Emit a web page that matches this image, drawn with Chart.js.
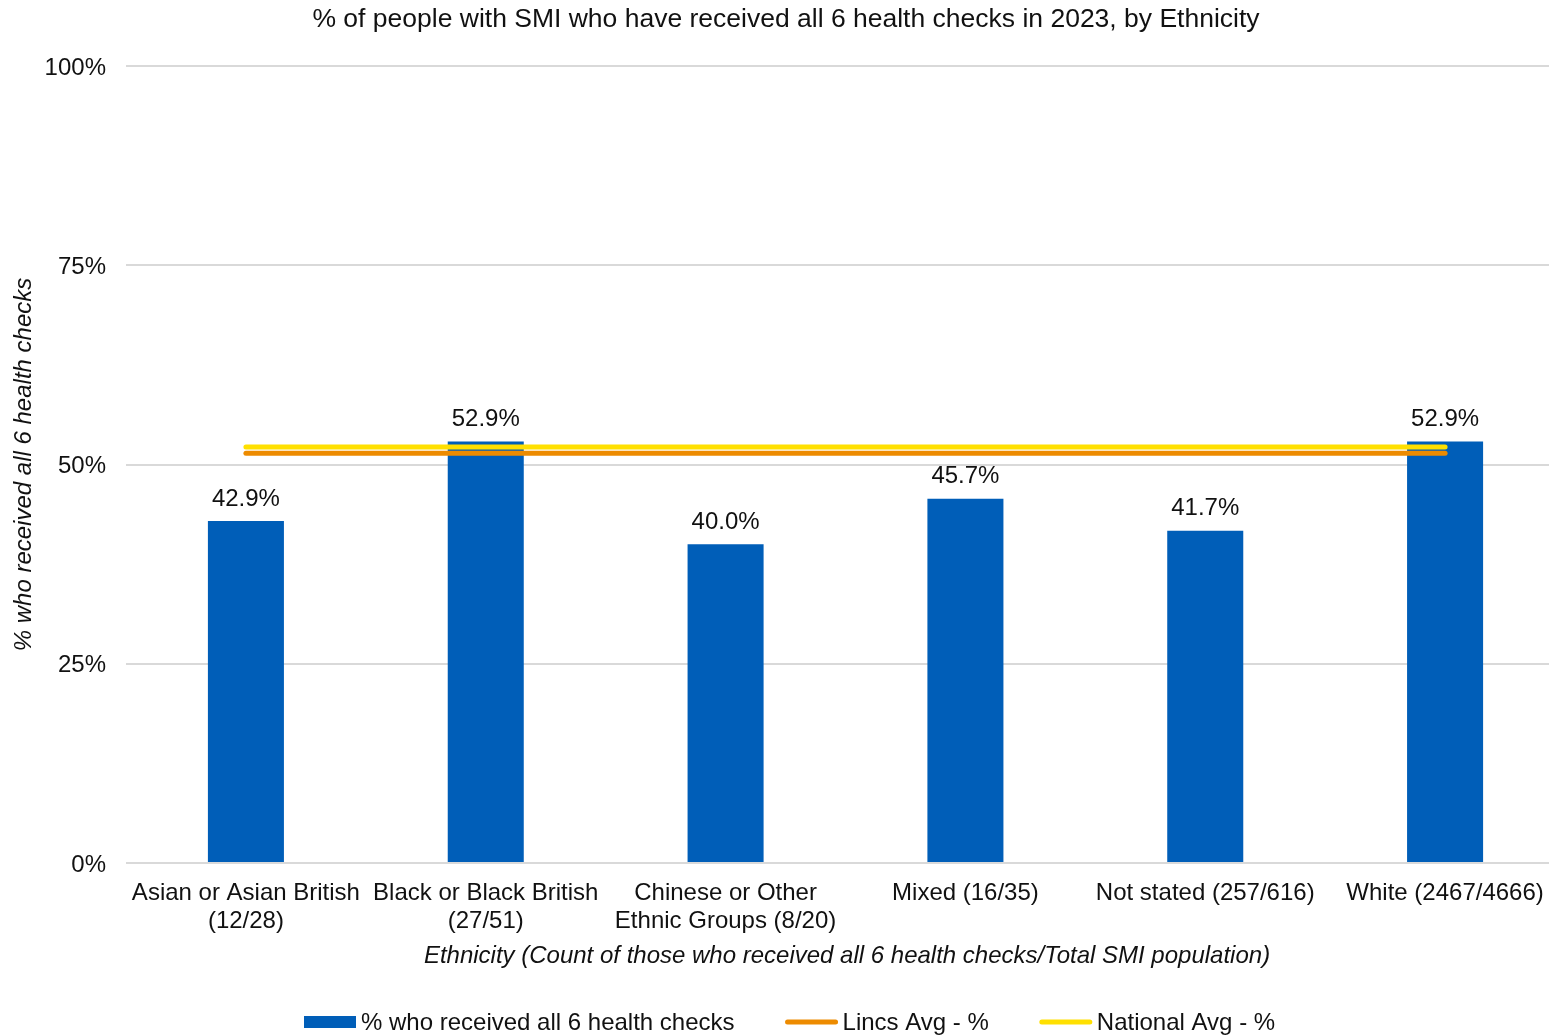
<!DOCTYPE html>
<html>
<head>
<meta charset="utf-8">
<script src="https://cdn.jsdelivr.net/npm/chart.js@4/dist/chart.umd.min.js"></script>
<style>
  html, body { margin: 0; padding: 0; background: #fff; overflow: hidden; }
  canvas { display: block; }
</style>
</head>
<body>
<canvas id="c" width="1565" height="1036"></canvas>
<script>
// Ethnic groups (received all 6 checks / total SMI population)
const categories = [
  ['Asian or Asian British', '(12/28)'],
  ['Black or Black British', '(27/51)'],
  ['Chinese or Other', 'Ethnic Groups (8/20)'],
  'Mixed (16/35)',
  'Not stated (257/616)',
  'White (2467/4666)'
];
const pctAllChecks = [42.9, 52.9, 40.0, 45.7, 41.7, 52.9];
const lincsAvgPct = 51.4;
const nationalAvgPct = 52.2;
const yTicks = [0, 25, 50, 75, 100];

const titleText = '% of people with SMI who have received all 6 health checks in 2023, by Ethnicity';
const xTitleText = 'Ethnicity (Count of those who received all 6 health checks/Total SMI population)';
const yTitleText = '% who received all 6 health checks';

const BLUE = '#005EB8', ORANGE = '#ED8B00', YELLOW = '#FFE000';
const FONT = '"Liberation Sans", Arial, sans-serif';
const TXT = '#111';

const legendItems = [
  { label: '% who received all 6 health checks', color: BLUE, kind: 'box' },
  { label: 'Lincs Avg - %', color: ORANGE, kind: 'line' },
  { label: 'National Avg - %', color: YELLOW, kind: 'line' }
];

// Title, axis titles, value labels and legend
const decor = {
  id: 'decor',
  afterDatasetsDraw(chart) {
    const ctx = chart.ctx;
    const meta = chart.getDatasetMeta(2);
    ctx.save();
    ctx.fillStyle = TXT;
    ctx.font = '24px ' + FONT;
    ctx.textAlign = 'center';
    ctx.textBaseline = 'middle';
    meta.data.forEach((bar, i) => {
      ctx.fillText(pctAllChecks[i].toFixed(1) + '%', bar.x, bar.y - 22);
    });
    ctx.restore();
  },
  afterDraw(chart) {
    const ctx = chart.ctx;
    const area = chart.chartArea;
    ctx.save();
    ctx.fillStyle = TXT;
    ctx.textBaseline = 'middle';
    ctx.textAlign = 'center';
    ctx.font = '26.5px ' + FONT;
    ctx.fillText(titleText, 786, 20);

    ctx.font = 'italic 24px ' + FONT;
    ctx.fillText(xTitleText, 847, 956);

    ctx.save();
    ctx.translate(24, (area.top + area.bottom) / 2);
    ctx.rotate(-Math.PI / 2);
    ctx.fillText(yTitleText, 0, 0);
    ctx.restore();

    // legend row
    ctx.font = '24px ' + FONT;
    ctx.textAlign = 'left';
    const sw = 52, gapText = 5, gapItem = 51;
    const widths = legendItems.map(it => ctx.measureText(it.label).width);
    let x = 304;
    const y = 1022;
    legendItems.forEach((it, i) => {
      if (it.kind === 'box') {
        ctx.fillStyle = it.color;
        ctx.fillRect(x, y - 6, sw, 12);
      } else {
        ctx.strokeStyle = it.color;
        ctx.lineWidth = 5;
        ctx.lineCap = 'round';
        ctx.beginPath();
        ctx.moveTo(x + 2, y);
        ctx.lineTo(x + sw - 2, y);
        ctx.stroke();
      }
      ctx.fillStyle = TXT;
      ctx.fillText(it.label, x + sw + gapText, y + 1);
      x += sw + gapText + widths[i] + gapItem;
    });
    ctx.restore();
  }
};

new Chart(document.getElementById('c'), {
  data: {
    labels: categories,
    datasets: [
      {
        type: 'line',
        label: 'National Avg - %',
        data: categories.map(() => nationalAvgPct),
        borderColor: YELLOW,
        backgroundColor: YELLOW,
        borderWidth: 5,
        borderCapStyle: 'round',
        pointRadius: 0,
        order: 1
      },
      {
        type: 'line',
        label: 'Lincs Avg - %',
        data: categories.map(() => lincsAvgPct),
        borderColor: ORANGE,
        backgroundColor: ORANGE,
        borderWidth: 5,
        borderCapStyle: 'round',
        pointRadius: 0,
        order: 2
      },
      {
        type: 'bar',
        label: '% who received all 6 health checks',
        data: pctAllChecks,
        backgroundColor: BLUE,
        barPercentage: 1,
        categoryPercentage: 0.317,
        order: 3
      }
    ]
  },
  options: {
    responsive: false,
    animation: false,
    layout: { padding: { top: 66, left: 0, right: 0, bottom: 0 } },
    plugins: {
      legend: { display: false },
      title: { display: false },
      tooltip: { enabled: false }
    },
    scales: {
      x: {
        afterFit(s) { s.height = 1036 - 863; },
        grid: { display: false, drawTicks: false },
        border: { display: false },
        ticks: {
          color: TXT,
          font: { family: FONT, size: 24, lineHeight: 1.17 },
          padding: 16,
          maxRotation: 0,
          autoSkip: false
        }
      },
      y: {
        min: 0,
        max: 100,
        afterFit(s) { s.width = 126; },
        afterBuildTicks(s) { s.ticks = yTicks.map(v => ({ value: v })); },
        grid: { color: '#d9d9d9', lineWidth: 2, drawTicks: false },
        border: { display: false },
        ticks: {
          color: TXT,
          font: { family: FONT, size: 24 },
          padding: 20,
          labelOffset: 2,
          callback: v => v + '%'
        }
      }
    }
  },
  plugins: [decor]
});
</script>
</body>
</html>
